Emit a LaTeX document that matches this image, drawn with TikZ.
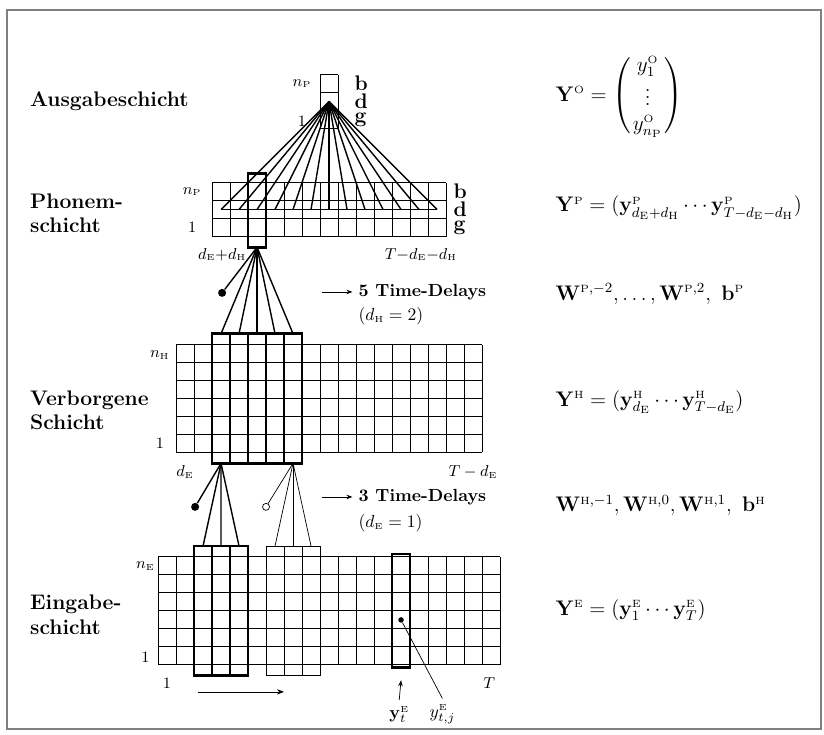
\documentclass[tikz,border=0pt]{standalone}
\usepackage{amsmath, amssymb, bm}
\usepackage{tikz}
\usetikzlibrary{arrows.meta, positioning, calc}
\newcommand{\lyr}[1]{{\scriptscriptstyle\mathrm{#1}}}

\begin{document}
\begin{tikzpicture}[scale=0.36,
  cellgrid/.style={line width=0.5pt, step=1},
  winbox/.style={line width=1.4pt},
  thinbox/.style={line width=0.5pt},
  fanline/.style={line width=0.8pt},
  layername/.style={anchor=west, font=\large\bfseries, align=left},
  formula/.style={anchor=west, font=\large},
  idx/.style={font=\small},
  phon/.style={anchor=west, font=\large\bfseries, inner sep=1pt},
  delay/.style={anchor=west, font=\bfseries},
  bigdot/.style={circle, fill, inner sep=0pt, minimum size=1.6mm},
  opendot/.style={circle, draw, thin, fill=white, inner sep=0pt, minimum size=1.4mm}]
  \useasboundingbox (-8.78,-3.89) rectangle (37,36.94);
  \draw[gray, line width=0.8pt] (-8.39,-3.56) rectangle (36.83,36.39);

  % Eingabeschicht
  \draw[cellgrid] (0,0) grid (19,6);
  \draw[winbox] (2,-0.6) rectangle (5,6.6);
  \foreach \xx in {3,4} \draw[winbox] (\xx,-0.6) -- (\xx,6.6);
  \draw[thinbox] (6,-0.6) rectangle (9,6.6);
  \foreach \xx in {7,8} \draw[thinbox] (\xx,-0.6) -- (\xx,6.6);
  \draw[winbox] (13,-0.15) rectangle (14,6.15);
  \foreach \i in {0,1,2} {
    \coordinate (ein\i) at (2.5+\i,6.6);
    \coordinate (ezw\i) at (6.5+\i,6.6);
  }
  \node[idx] (nE) at (-0.7,5.5) {$n_{\lyr E}$};
  \node[idx] (oneE) at (-0.7,0.45) {1};
  \node[idx] (eFirst) at (0.5,-1.0) {1};
  \node[idx] (eLast) at (18.4,-1.0) {$T$};
  \coordinate (tA) at (2.2,-1.5);
  \coordinate (tB) at (7.0,-1.5);
  \draw[thin, -{Stealth[length=1.4mm]}] (tA) -- (tB);
  \node[circle, fill, inner sep=0pt, minimum size=1.1mm] (ytdot) at (13.5,2.5) {};
  \node (yt) at (13.4,-2.75) {$\mathbf{y}_t^{\lyr E}$};
  \node (ytj) at (15.8,-2.75) {$y_{t,j}^{\lyr E}$};
  \coordinate (ytarr) at (13.5,-0.85);
  \draw[thin, -{Stealth[length=1.2mm]}] (yt.north) -- (ytarr);
  \draw[thin] (ytdot) -- (ytj.north);

  % Verborgene Schicht
  \begin{scope}[shift={(1,11.8)}]
    \draw[cellgrid] (0,0) grid (17,6);
    \draw[winbox] (2,-0.6) rectangle (7,6.6);
    \foreach \xx in {3,...,6} \draw[winbox] (\xx,-0.6) -- (\xx,6.6);
    \coordinate (hinA) at (2.5,-0.6);
    \coordinate (hinB) at (6.5,-0.6);
    \foreach \i in {0,...,4} \coordinate (hout\i) at (2.5+\i,6.6);
  \end{scope}
  \node[idx] (nH) at (0.1,17.2) {$n_{\lyr H}$};
  \node[idx] (oneH) at (0.1,12.3) {1};
  \node[idx] (hFirst) at (1.5,10.7) {$d_{\lyr E}$};
  \node[idx] (hLast) at (17.5,10.7) {$T-d_{\lyr E}$};

  % Verbindungen Eingabe -> Verborgen
  \foreach \i in {0,1,2} {
    \draw[fanline] (ein\i) -- (hinA);
    \draw[thin] (ezw\i) -- (hinB);
  }
  \node[bigdot] (biasH) at (2.06,8.78) {};
  \draw[fanline] (biasH) -- (hinA);
  \node[opendot] (biasHz) at (6.0,8.78) {};
  \draw[thin] (biasHz) -- (hinB);
  \coordinate (dEa) at (9.1,9.33);
  \node[delay] (delayE) at (10.8,9.33) {3 Time-Delays};
  \draw[thin, -{Stealth[length=1.2mm]}] (dEa) -- (delayE.west);
  \node[anchor=west] (delayEd) at (10.8,7.9) {$(d_{\lyr E}=1)$};

  % Phonemschicht
  \begin{scope}[shift={(3,23.8)}]
    \draw[cellgrid] (0,0) grid (13,3);
    \draw[winbox] (2,-0.6) rectangle (3,3.5);
    \coordinate (pin) at (2.5,-0.6);
    \foreach \i in {0,...,12} \coordinate (pmid\i) at (0.5+\i,1.5);
  \end{scope}
  \node[idx] (nPp) at (1.9,26.3) {$n_{\lyr P}$};
  \node[idx] (oneP) at (1.9,24.3) {1};
  \node[idx] (pFirst) at (3.56,22.8) {$d_{\lyr E}{+}d_{\lyr H}$};
  \node[idx] (pLast) at (14.6,22.8) {$T{-}d_{\lyr E}{-}d_{\lyr H}$};
  \node[phon] (pb) at (16.3,26.3) {b};
  \node[phon] (pd) at (16.3,25.3) {d};
  \node[phon] (pg) at (16.3,24.3) {g};

  % Verbindungen Verborgen -> Phonem
  \foreach \i in {0,...,4} \draw[fanline] (hout\i) -- (pin);
  \node[bigdot] (biasP) at (3.56,20.67) {};
  \draw[fanline] (biasP) -- (pin);
  \coordinate (dHa) at (9.1,20.72);
  \node[delay] (delayH) at (10.8,20.72) {5 Time-Delays};
  \draw[thin, -{Stealth[length=1.2mm]}] (dHa) -- (delayH.west);
  \node[anchor=west] (delayHd) at (10.8,19.4) {$(d_{\lyr H}=2)$};

  % Ausgabeschicht
  \begin{scope}[shift={(9,29.8)}]
    \draw[cellgrid] (0,0) grid (1,3);
    \coordinate (apex) at (0.5,1.5);
  \end{scope}
  \foreach \i in {0,...,12} \draw[fanline] (apex) -- (pmid\i);
  \draw[fanline] (pmid0) -- (pmid12);
  \node[idx] (nPo) at (8.0,32.3) {$n_{\lyr P}$};
  \node[idx] (oneO) at (8.0,30.2) {1};
  \node[phon] (ob) at (10.8,32.3) {b};
  \node[phon] (od) at (10.8,31.3) {d};
  \node[phon] (og) at (10.8,30.3) {g};

  % Schichtnamen
  \node[layername] (lO) at (-7.45,31.3) {Ausgabeschicht};
  \node[layername] (lP) at (-7.45,25.1) {Phonem-\\schicht};
  \node[layername] (lH) at (-7.45,14.15) {Verborgene\\Schicht};
  \node[layername] (lE) at (-7.45,2.8) {Eingabe-\\schicht};

  % Formeln
  \node[formula] (fO) at (21.74,31.6) {$\mathbf{Y}^{\lyr O} = \begin{pmatrix} \; y_1^{\lyr O} \; \\ \vdots \\ y_{n_{\lyr P}}^{\lyr O} \end{pmatrix}$};
  \node[formula] (fP) at (21.74,25.4) {$\mathbf{Y}^{\lyr P} = (\mathbf{y}^{\lyr P}_{d_{\lyr E}+d_{\lyr H}} \cdots \mathbf{y}^{\lyr P}_{T-d_{\lyr E}-d_{\lyr H}})$};
  \node[formula] (fWP) at (21.74,20.6) {$\mathbf{W}^{\lyr P,-2},\ldots,\mathbf{W}^{\lyr P,2},\ \mathbf{b}^{\lyr P}$};
  \node[formula] (fH) at (21.74,14.6) {$\mathbf{Y}^{\lyr H} = (\mathbf{y}^{\lyr H}_{d_{\lyr E}} \cdots \mathbf{y}^{\lyr H}_{T-d_{\lyr E}})$};
  \node[formula] (fWH) at (21.74,8.85) {$\mathbf{W}^{\lyr H,-1},\mathbf{W}^{\lyr H,0},\mathbf{W}^{\lyr H,1},\ \mathbf{b}^{\lyr H}$};
  \node[formula] (fE) at (21.74,3.05) {$\mathbf{Y}^{\lyr E} = (\mathbf{y}^{\lyr E}_1 \cdots \mathbf{y}^{\lyr E}_T)$};
\end{tikzpicture}
\end{document}
